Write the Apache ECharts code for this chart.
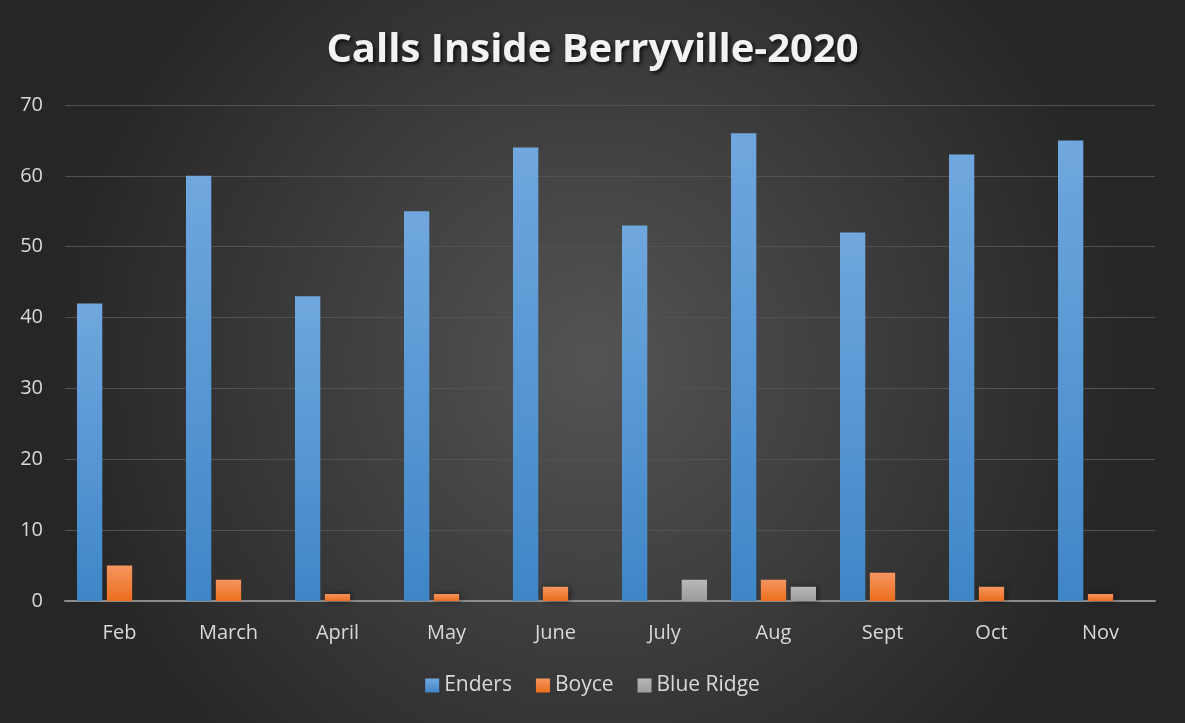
<!DOCTYPE html>
<html><head><meta charset="utf-8">
<script src="https://cdn.jsdelivr.net/npm/echarts@6/dist/echarts.min.js"></script>
<style>html,body{margin:0;padding:0;background:#2a2a2a}#c{width:1185px;height:723px}</style>
</head><body><div id="c"></div>
<script>
const categories = ['Feb','March','April','May','June','July','Aug','Sept','Oct','Nov'];
const enders = [42,60,43,55,64,53,66,52,63,65];
const boyce = [5,3,1,1,2,0,3,4,2,1];
const blueRidge = [0,0,0,0,0,3,2,0,0,0];
const yTicks = {min:0,max:70,interval:10};

const chart = echarts.init(document.getElementById('c'));
function grad(top,bottom){return new echarts.graphic.LinearGradient(0,0,0,1,[{offset:0,color:top},{offset:1,color:bottom}]);}
const font = 'Open Sans, Lato, sans-serif';
chart.setOption({
  backgroundColor: new echarts.graphic.RadialGradient(0.5,0.5,0.75,[{offset:0,color:'#545454'},{offset:1,color:'#262626'}]),
  title:{text:'Calls Inside Berryville-2020',left:'center',top:26,
    textStyle:{color:'#f2f2f2',fontSize:40,fontWeight:'bold',fontFamily:'Open Sans',
      textShadowColor:'rgba(0,0,0,0.8)',textShadowBlur:4,textShadowOffsetX:2,textShadowOffsetY:2}},
  legend:{bottom:22,left:'center',itemWidth:14,itemHeight:14,itemGap:24,icon:'rect',
    textStyle:{color:'#d9d9d9',fontSize:21,fontFamily:font},
    data:['Enders','Boyce','Blue Ridge']},
  grid:{left:65,right:30,top:105,bottom:122},
  xAxis:{type:'category',data:categories,
    axisLine:{lineStyle:{color:'#8c8c8c',width:2}},axisTick:{show:false},
    axisLabel:{color:'#d9d9d9',fontSize:20,fontFamily:font,margin:22}},
  yAxis:{type:'value',min:yTicks.min,max:yTicks.max,interval:yTicks.interval,
    axisLine:{show:false},axisTick:{show:false},
    splitLine:{lineStyle:{color:'#525252',width:1}},
    axisLabel:{color:'#d9d9d9',fontSize:20,fontFamily:font,margin:22}},
  series:[
    {name:'Enders',type:'bar',data:enders,barGap:'18%',barCategoryGap:'22%',
     itemStyle:{color:grad('#70a7de','#3f86c7'),shadowColor:'rgba(0,0,0,0.5)',shadowBlur:6,shadowOffsetX:2,shadowOffsetY:0}},
    {name:'Boyce',type:'bar',data:boyce,
     itemStyle:{color:grad('#f59560','#ec6e1d'),shadowColor:'rgba(0,0,0,0.5)',shadowBlur:6,shadowOffsetX:2}},
    {name:'Blue Ridge',type:'bar',data:blueRidge,
     itemStyle:{color:grad('#b8b8b8','#9c9c9c'),shadowColor:'rgba(0,0,0,0.5)',shadowBlur:6,shadowOffsetX:2}}
  ]
});
</script></body></html>
